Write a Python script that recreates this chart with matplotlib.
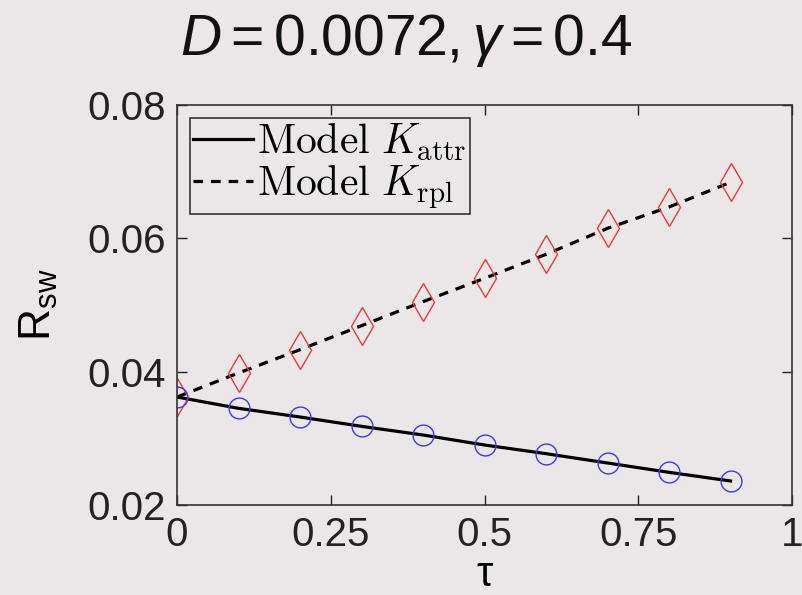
import matplotlib.pyplot as plt
from matplotlib.font_manager import FontProperties

tau = [0, 0.1, 0.2, 0.3, 0.4, 0.5, 0.6, 0.7, 0.8, 0.9]
R_attr = [0.0362, 0.0345, 0.0332, 0.0318, 0.0305, 0.0290, 0.0277, 0.0263, 0.0249, 0.0236]
R_rpl = [0.0362, 0.0398, 0.0433, 0.0469, 0.0505, 0.0540, 0.0576, 0.0615, 0.0647, 0.0684]
xticks = [0, 0.25, 0.5, 0.75, 1]
xticklabels = ["0", "0.25", "0.5", "0.75", "1"]
yticks = [0.02, 0.04, 0.06, 0.08]
yticklabels = ["0.02", "0.04", "0.06", "0.08"]

bg = "#ebe7e9"
plt.rcParams['font.family'] = ['Liberation Sans', 'DejaVu Sans']
plt.rcParams['mathtext.fontset'] = 'custom'
plt.rcParams['mathtext.rm'] = 'Liberation Sans'
plt.rcParams['mathtext.it'] = 'Liberation Sans:italic'

fig = plt.figure(figsize=(8.02, 5.95), dpi=100, facecolor=bg)
ax = fig.add_axes([177/802, 1-505/595, 615/802, 400/595], facecolor=bg)

l1, = ax.plot(tau, R_attr, '-', color='black', lw=2.3)
l2, = ax.plot(tau, R_rpl, '--', color='black', lw=2.3, dashes=(3, 2.5))
ax.plot(tau, R_rpl, 'd', ms=19, mfc='none', mec='#f03a3a', mew=1.0)
ax.plot(tau, R_attr, 'o', ms=15, mfc='none', mec='#3a3af0', mew=1.0)

ax.set_xlim(0, 1)
ax.set_ylim(0.02, 0.08)
ax.set_xticks(xticks)
ax.set_xticklabels(xticklabels)
ax.set_yticks(yticks)
ax.set_yticklabels(yticklabels)
ax.tick_params(direction='in', length=7, width=1, top=True, right=True,
               labelsize=29, colors='#222222', pad=8)
for s in ax.spines.values():
    s.set_linewidth(1.2)
    s.set_color('#333333')

ax.set_xlabel('τ', fontsize=30, labelpad=1)
ax.set_ylabel(r'$\mathrm{R}_{\mathrm{sw}}$', fontsize=32, labelpad=20)

fig.text(406/802, 1-55/595, r'$D = 0.0072, \gamma = 0.4$', fontsize=41,
         ha='center', va='baseline', color='#111111')

prop = FontProperties(family='DejaVu Serif', size=30, math_fontfamily='cm')
leg = ax.legend([l1, l2], [r'$\mathrm{Model}\ K_{\mathrm{attr}}$', r'$\mathrm{Model}\ K_{\mathrm{rpl}}$'],
                loc='upper left', prop=prop, handlelength=1.45, handletextpad=0.1,
                borderpad=0.08, labelspacing=0.0, borderaxespad=0.3,
                fancybox=False, framealpha=1, edgecolor='#333333', facecolor=bg)
leg.get_frame().set_linewidth(1.2)

fig.savefig('out.png', dpi=100, facecolor=bg)
